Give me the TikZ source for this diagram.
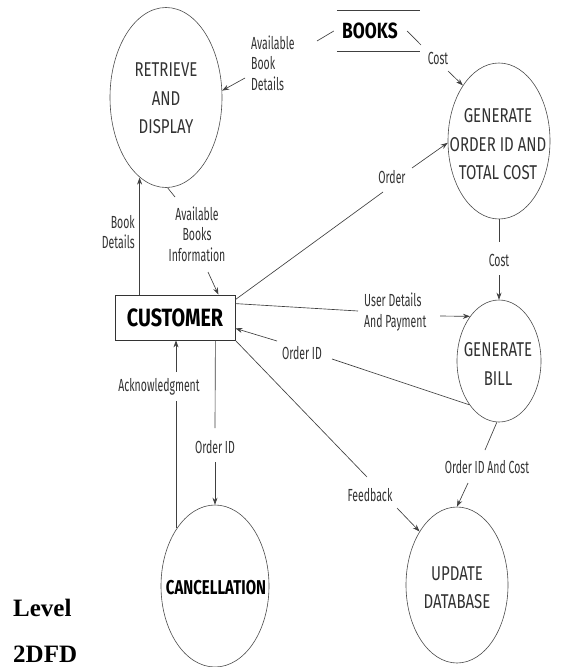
\documentclass[tikz,border=0pt]{standalone}
\usepackage{fontspec}
\usetikzlibrary{shapes.geometric,arrows.meta}
\newfontfamily\dfdl[FakeStretch=0.6]{Fira Sans}
\newfontfamily\dfdp[FakeStretch=0.75]{Fira Sans}
\newfontfamily\dfdb[FakeStretch=0.79]{Fira Sans}
\newfontfamily\tnr{Liberation Serif}
\tikzset{
 proc/.style={ellipse, draw=black!70, line width=0.6pt, inner sep=0pt},
 ptext/.style={font=\dfdp\fontsize{20}{28.5}\selectfont, text=black!80, align=center, inner sep=0pt},
 lbl/.style={font=\dfdl\fontsize{17.5}{20.5}\selectfont, text=black!80, inner sep=0pt},
 flow/.style={draw=black!75, line width=0.65pt},
 arr/.style={flow, -{Stealth[length=7pt,width=5pt]}},
}
\begin{document}
\begin{tikzpicture}[x=1pt,y=-1pt]
\useasboundingbox (0,0) rectangle (568,667);
\fill[white] (0,0) rectangle (568,667);

% processes
\node[proc, minimum width=112pt, minimum height=180pt] (ret) at (166,97.5) {};
\node[ptext] (rettxt) at (166,98.5) {RETRIEVE\\AND\\DISPLAY};
\node[proc, minimum width=102pt, minimum height=156pt] (gen) at (499,141) {};
\node[ptext] (gentxt) at (498,144.5) {GENERATE\\ORDER ID AND\\TOTAL COST};
\node[proc, minimum width=84pt, minimum height=122pt] (bill) at (499,361) {};
\node[ptext] (billtxt) at (498,364) {GENERATE\\BILL};
\node[proc, minimum width=102pt, minimum height=156pt] (upd) at (457,585) {};
\node[ptext] (updtxt) at (457,587.5) {UPDATE\\DATABASE};
\node[proc, minimum width=108pt, minimum height=162pt] (canc) at (215,586) {};
\node[ptext, font=\dfdp\bfseries\fontsize{20}{24}\selectfont, text=black] (canctxt) at (216,588) {CANCELLATION};

% data store
\node[minimum width=83pt, minimum height=40pt, inner sep=0pt] (books) at (378.5,31) {};
\node[inner sep=0pt, font=\dfdb\bfseries\fontsize{22}{26}\selectfont] (bookstxt) at (370,31) {BOOKS};
\draw[flow] (books.north west) -- (books.north east);
\draw[flow] (books.south west) -- (books.south east);

% external entity
\node[draw=black!80, line width=0.8pt, minimum width=120pt, minimum height=45pt, inner sep=0pt, font=\dfdb\bfseries\fontsize{25}{30}\selectfont] (cust) at (175,317.5) {CUSTOMER};

% labels
\node[lbl, anchor=west, align=left] (labd) at (251,63) {Available\\Book\\Details};
\node[lbl] (lcost1) at (438,58) {Cost};
\node[lbl] (lorder) at (392,177) {Order};
\node[lbl, anchor=east, align=right] (lbd) at (135,232) {Book\\Details};
\node[lbl, align=center] (labi) at (197,234) {Available\\Books\\Information};
\node[lbl] (lcost2) at (499,260) {Cost};
\node[lbl, anchor=west, align=left] (lud) at (364,312) {User Details\\And Payment};
\node[lbl] (loid1) at (302,353) {Order ID};
\node[lbl] (lack) at (159,387) {Acknowledgment};
\node[lbl] (loid2) at (215,447) {Order ID};
\node[lbl] (lfb) at (370,495) {Feedback};
\node[lbl] (loc) at (487,467) {Order ID And Cost};

\node[anchor=base west, inner sep=0pt, font=\tnr\bfseries\fontsize{25}{30}\selectfont] (lvl) at (13,616) {Level};
\node[anchor=base west, inner sep=0pt, font=\tnr\bfseries\fontsize{25}{30}\selectfont] (dfd) at (13,662) {2DFD};

% connector break points
\coordinate (abd1) at (317,41);
\coordinate (abd2) at (245,78);
\coordinate (bc1) at (421,45);
\coordinate (bc2) at (448,71);
\coordinate (o1) at (383,192);
\coordinate (o2) at (412,168);
\coordinate (abi1) at (175,197);
\coordinate (abi2) at (208,272);
\coordinate (gc1) at (499,242);
\coordinate (gc2) at (499,275);
\coordinate (ud1) at (358,311);
\coordinate (ud2) at (440,316);
\coordinate (oi1) at (332,359);
\coordinate (oi2) at (277,341);
\coordinate (oc1) at (485,450);
\coordinate (oc2) at (468,483);
\coordinate (fb1) at (367,477);
\coordinate (fb2) at (397,508);
\coordinate (co1) at (215,428);
\coordinate (co2) at (215,462);
\coordinate (ak1) at (176,401);
\coordinate (ak2) at (176,372);

% flows
\draw[flow] ([xshift=-3pt]books.west) -- (abd1);
\draw[arr] (abd2) -- (ret.7);
\draw[flow] ([xshift=-13pt]books.east) -- (bc1);
\draw[arr] (bc2) -- (gen.123);
\draw[flow] ([yshift=-5pt]cust.north east) -- (o1);
\draw[arr] (o2) -- (gen.182);
\draw[arr] ([xshift=25pt]cust.north west) -- ([xshift=25pt]cust.north west |- ret.-108);
\draw[flow] (ret.-89) -- (abi1);
\draw[arr] (abi2) -- ([xshift=-17pt]cust.north east);
\draw[flow] (gen.south) -- (gc1);
\draw[arr] (gc2) -- (bill.north);
\draw[flow] ([yshift=-9pt]cust.north east) -- (ud1);
\draw[arr] (ud2) -- (bill.123);
\draw[flow] (bill.-124) -- (oi1);
\draw[arr] (oi2) -- ([yshift=12pt]cust.south east);
\draw[flow] (bill.-92) -- (oc1);
\draw[arr] (oc2) -- (upd.north);
\draw[flow] (cust.south east) -- (fb1);
\draw[arr] (fb2) -- (upd.125);
\draw[flow] ([xshift=-20pt]cust.south east) -- (co1);
\draw[arr] (co2) -- (canc.north);
\draw[flow] (ak1 |- canc.123) -- (ak1);
\draw[arr] (ak2) -- (ak2 |- cust.south);
\end{tikzpicture}
\end{document}
